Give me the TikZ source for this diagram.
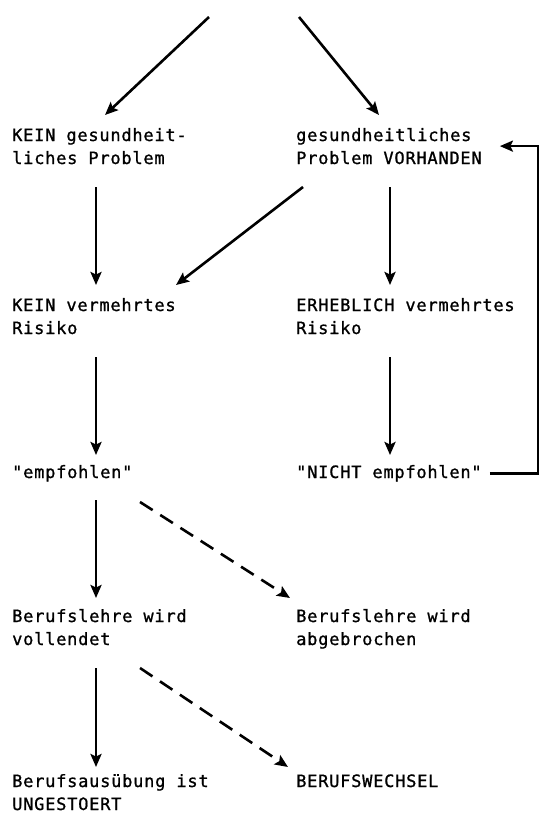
\documentclass[tikz,border=0pt]{standalone}
\usepackage{fontspec}
\setmonofont[LetterSpace=4.5,FakeBold=1]{DejaVu Sans Mono}
\usetikzlibrary{arrows.meta}
\tikzset{
  txt/.style={anchor=base west,inner sep=0pt,align=left,font=\ttfamily\fontsize{17}{23}\selectfont},
  pfeil/.style={line width=2.6pt,-{Stealth[length=13pt,width=11pt,inset=2.5pt]}},
  strich/.style={pfeil,dash pattern=on 15pt off 9pt}
}

\begin{document}
\begin{tikzpicture}[x=1pt,y=-1pt]
\useasboundingbox (0,0) rectangle (541,816);
\node[txt] (kp) at (12,164) {KEIN gesundheit-\\liches Problem};
\node[txt] (gp) at (296,164) {gesundheitliches\\Problem VORHANDEN};
\node[txt] (kr) at (12,334) {KEIN vermehrtes\\Risiko};
\node[txt] (er) at (296,334) {ERHEBLICH vermehrtes\\Risiko};
\node[txt] (emp) at (12,478) {"empfohlen"};
\node[txt] (nemp) at (296,478) {"NICHT empfohlen"};
\node[txt] (bv) at (12,645) {Berufslehre wird\\vollendet};
\node[txt] (ba) at (296,645) {Berufslehre wird\\abgebrochen};
\node[txt] (bu) at (12,810) {Berufsausübung ist\\UNGESTOERT};
\node[txt] (bw) at (296,787) {BERUFSWECHSEL};
\coordinate (ol) at (209,17);
\coordinate (or) at (299,17);
\coordinate (knick) at (538,300);

\draw[pfeil] (ol) -- ([shift={(93,-49)}]kp.base west);
\draw[pfeil] (or) -- ([shift={(83,-49)}]gp.base west);
\draw[pfeil] ([shift={(84,23)}]kp.base west) -- ([shift={(84,-49)}]kr.base west);
\draw[pfeil] ([shift={(94,23)}]gp.base west) -- ([shift={(94,-49)}]er.base west);
\draw[pfeil] ([shift={(7,23)}]gp.base west) -- ([shift={(164,-49)}]kr.base west);
\draw[pfeil] ([shift={(84,23)}]kr.base west) -- ([shift={(84,-23)}]emp.base west);
\draw[pfeil] ([shift={(94,23)}]er.base west) -- ([shift={(94,-23)}]nemp.base west);
\draw[pfeil] ([shift={(84,22)}]emp.base west) -- ([shift={(84,-47)}]bv.base west);
\draw[strich] ([shift={(128,24)}]emp.base west) -- ([shift={(-6,-47)}]ba.base west);
\draw[pfeil] ([shift={(84,23)}]bv.base west) -- ([shift={(84,-43)}]bu.base west);
\draw[strich] ([shift={(128,23)}]bv.base west) -- ([shift={(-8,-20)}]bw.base west);
% Rueckfuehrung
\draw[pfeil] ([xshift=8pt]nemp.east) -| (knick) |- ([xshift=18pt]gp.east);
\end{tikzpicture}
\end{document}
